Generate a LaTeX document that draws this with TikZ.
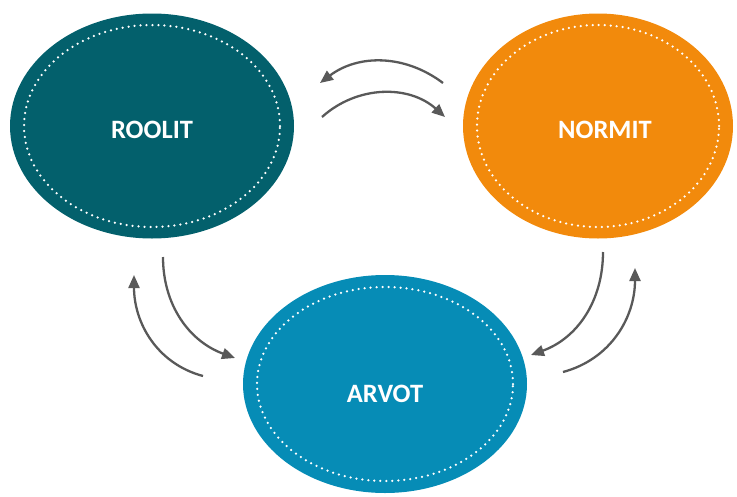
\documentclass[tikz,border=0pt]{standalone}
\usepackage{fontspec}
\setmainfont{Carlito}
\usetikzlibrary{shapes.geometric,arrows.meta}
\definecolor{roolc}{HTML}{03606C}
\definecolor{normc}{HTML}{F28A0C}
\definecolor{arvoc}{HTML}{068CB6}
\definecolor{arrc}{HTML}{595959}
\begin{document}
\begin{tikzpicture}[x=1pt,y=1pt,
  blob/.style={ellipse, inner sep=0pt, text=white,
    font=\fontsize{26.5}{30}\selectfont\bfseries},
  ring/.style={white, line width=2.5pt, line cap=round,
    dash pattern=on 0pt off 6pt},
  flow/.style={arrc, line width=2.3pt,
    -{Triangle[length=13pt,width=11pt]}}]
\useasboundingbox (0,0) rectangle (737,-496);

% the three circles
\node[blob, fill=roolc, minimum width=284, minimum height=225] (rool) at (152,-126) {};
\node[blob, fill=normc, minimum width=270, minimum height=225] (norm) at (598,-126) {};
\node[blob, fill=arvoc, minimum width=284, minimum height=218] (arvo) at (385,-384) {};

% dotted inner rings
\draw[ring] (rool.center) ellipse [x radius=128, y radius=101];
\draw[ring] (norm.center) ellipse [x radius=121, y radius=101];
\draw[ring] (arvo.center) ellipse [x radius=128, y radius=97];

% labels
\node[blob] (roolt) at (152,-130) {ROOLIT};
\node[blob] (normt) at (605,-130) {NORMIT};
\node[blob] (arvot) at (385,-394) {ARVOT};

% arrow end points
\coordinate (a1) at (443,-83);  \coordinate (a2) at (320,-83);
\coordinate (b1) at (322,-117); \coordinate (b2) at (445,-117);
\coordinate (c1) at (163,-257); \coordinate (c2) at (235,-358);
\coordinate (d1) at (203,-376); \coordinate (d2) at (134,-275);
\coordinate (e1) at (603,-252); \coordinate (e2) at (531,-355);
\coordinate (f1) at (563,-372); \coordinate (f2) at (635,-268);

% curved arrows between the circles
\draw[flow] (a1) to[out=143,in=37] (a2);
\draw[flow] (b1) to[out=42,in=138] (b2);
\draw[flow] (c1) to[out=-90,in=160] (c2);
\draw[flow] (d1) to[out=165,in=-90] (d2);
\draw[flow] (e1) to[out=-90,in=20] (e2);
\draw[flow] (f1) to[out=15,in=-90] (f2);
\end{tikzpicture}
\end{document}
